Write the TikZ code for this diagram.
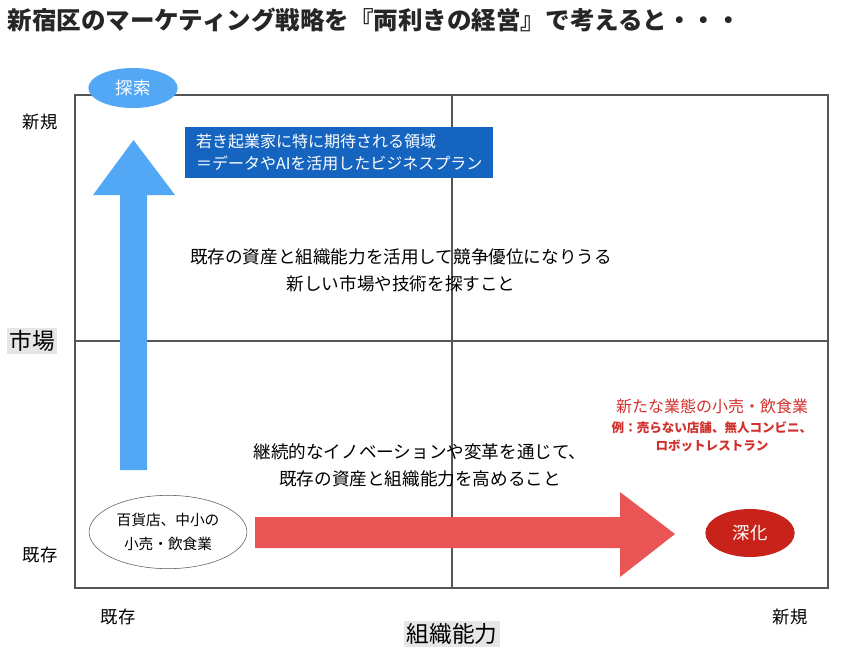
\documentclass[tikz,border=0pt]{standalone}
\usepackage{fontspec}
\setmainfont{Noto Sans CJK JP}
\usetikzlibrary{shapes.geometric}
\definecolor{gline}{HTML}{555555}
\definecolor{bluea}{HTML}{52A8F5}
\definecolor{blueb}{HTML}{1565C0}
\definecolor{reda}{HTML}{E95555}
\definecolor{redb}{HTML}{C8231B}
\definecolor{redt}{HTML}{D0312D}
\definecolor{graybg}{HTML}{E6E6E6}
\tikzset{
 lbl/.style={font=\fontsize{13}{15}\selectfont, text=black},
 axislbl/.style={font=\fontsize{17}{19}\selectfont, fill=graybg, inner sep=2pt},
 body/.style={font=\fontsize{13.2}{20}\selectfont, align=center, text=black},
}
\begin{document}
\begin{tikzpicture}[x=0.75pt,y=-0.75pt]
\useasboundingbox (0,0) rectangle (845,658);
\node[anchor=west,font=\bfseries\fontsize{18.4}{20}\selectfont,text=black!85] (title) at (3,20) {新宿区のマーケティング戦略を『両利きの経営』で考えると・・・};
% frame
\draw[gline,line width=1.4pt] (75,95) rectangle (828,588);
\draw[gline,line width=1.4pt] (452,95) -- (452,588);
\draw[gline,line width=1.4pt] (75,341) -- (828,341);
% axis labels
\node[lbl] (ny) at (40,122) {新規};
\node[axislbl] (mk) at (32,341) {市場};
\node[lbl] (ey) at (40,555) {既存};
\node[lbl] (ex) at (118,617) {既存};
\node[lbl] (nx) at (790,617) {新規};
\node[axislbl] (so) at (452,634) {組織能力};
% blue arrow
\fill[bluea] (120,470) -- (147,470) -- (147,195) -- (175,195) -- (133.5,140) -- (93,195) -- (120,195) -- cycle;
\node[ellipse,fill=bluea,minimum width=67pt,minimum height=30pt,text=white,font=\fontsize{13}{15}\selectfont] (tan) at (133,88) {探索};
\node[fill=blueb,minimum width=231pt,minimum height=38pt,text=white,font=\fontsize{12}{17}\selectfont,align=left,anchor=north west,inner xsep=8pt] (box) at (185,127) {若き起業家に特に期待される領域\\＝データやAIを活用したビジネスプラン};
\node[body] (t1) at (401,270) {既存の資産と組織能力を活用して競争優位になりうる\\新しい市場や技術を探すこと};
\node[body] (t2) at (420,465) {継続的なイノベーションや変革を通じて、\\既存の資産と組織能力を高めること};
\node[text=redt,align=center,font=\fontsize{12}{16}\selectfont] (r1) at (712,406) {新たな業態の小売・飲食業};
\node[text=redt,align=center,font=\bfseries\fontsize{9.4}{13.5}\selectfont] (r2) at (712,437) {例：売らない店舗、無人コンビニ、\\ロボットレストラン};
% red arrow
\fill[reda] (255,517) -- (620,517) -- (620,492) -- (675,534) -- (620,577) -- (620,548) -- (255,548) -- cycle;
\node[ellipse,draw=gline,fill=white,minimum width=116pt,minimum height=55pt,align=center,font=\fontsize{11}{18}\selectfont] (dep) at (168,532) {百貨店、中小の\\小売・飲食業};
\node[ellipse,fill=redb,minimum width=67pt,minimum height=36pt,text=white,font=\fontsize{13}{15}\selectfont] (shin) at (750,533) {深化};
\end{tikzpicture}
\end{document}
